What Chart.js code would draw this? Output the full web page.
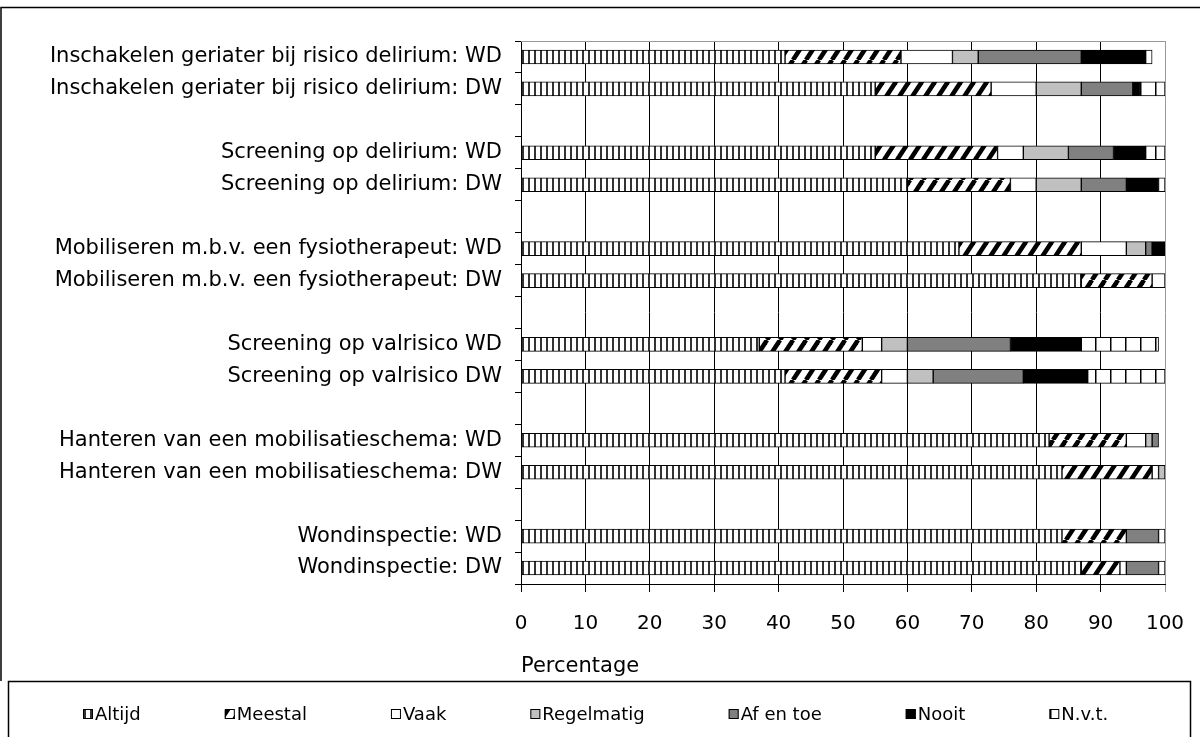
<!DOCTYPE html>
<html>
<head>
<meta charset="utf-8">
<script src="https://cdn.jsdelivr.net/npm/chart.js@4.4.1/dist/chart.umd.min.js"></script>
<style>
  html, body { margin: 0; padding: 0; background: #fff; }
  canvas { display: block; }
</style>
</head>
<body>
<canvas id="chart" width="1200" height="737"></canvas>
<script>
// categories, top to bottom
const categories = [
  "Inschakelen geriater bij risico delirium: WD",
  "Inschakelen geriater bij risico delirium: DW",
  "Screening op delirium: WD",
  "Screening op delirium: DW",
  "Mobiliseren m.b.v. een fysiotherapeut: WD",
  "Mobiliseren m.b.v. een fysiotherapeut: DW",
  "Screening op valrisico WD",
  "Screening op valrisico DW",
  "Hanteren van een mobilisatieschema: WD",
  "Hanteren van een mobilisatieschema: DW",
  "Wondinspectie: WD",
  "Wondinspectie: DW"
];

const seriesNames = ["Altijd", "Meestal", "Vaak", "Regelmatig", "Af en toe", "Nooit", "N.v.t."];

// percentages per category
const altijd     = [41, 55, 55, 60, 68, 87, 37, 41, 82, 84, 84, 87];
const meestal    = [18, 18, 19, 16, 19, 11, 16, 15, 12, 14, 10, 6];
const vaak       = [8, 7, 4, 4, 7, 2, 3, 4, 3, 1, 0, 1];
const regelmatig = [4, 7, 7, 7, 3, 0, 4, 4, 1, 1, 0, 0];
const afEnToe    = [16, 8, 7, 7, 1, 0, 16, 14, 1, 0, 5, 5];
const nooit      = [10, 1, 5, 5, 3, 0, 11, 10, 0, 0, 0, 0];
const nvt        = [1, 4, 3, 1, 0, 0, 12, 12, 0, 0, 1, 1];

// x axis ticks
const xMin = 0;
const xMax = 100;
const xStep = 10;
const xTitle = "Percentage";

// an empty row after every pair, like the original
function withGaps(arr, blank) {
  const out = [];
  arr.forEach((v, i) => {
    out.push(v);
    if (i % 2 === 1 && i < arr.length - 1) out.push(blank);
  });
  return out;
}

const canvas = document.getElementById("chart");
const ctx = canvas.getContext("2d");

function pattern(w, h, paint) {
  const c = document.createElement("canvas");
  c.width = w;
  c.height = h;
  const g = c.getContext("2d");
  g.fillStyle = "#fff";
  g.fillRect(0, 0, w, h);
  paint(g, w, h);
  return ctx.createPattern(c, "repeat");
}

const fills = [
  // Altijd: vertical lines
  pattern(6, 6, (g, w, h) => { g.fillStyle = "#333"; g.fillRect(0, 0, 2, h); }),
  // Meestal: thick diagonal stripes
  pattern(13, 20, (g, w, h) => {
    g.strokeStyle = "#000";
    g.lineWidth = 4.5;
    [-w, 0, w].forEach(k => {
      g.beginPath();
      g.moveTo(k, h);
      g.lineTo(k + w, 0);
      g.stroke();
    });
  }),
  "#ffffff",
  "#c0c0c0",
  "#808080",
  "#000000",
  // N.v.t.: wide vertical lines
  pattern(15, 6, (g, w, h) => { g.fillStyle = "#000"; g.fillRect(0, 0, 1.5, h); })
];

const seriesValues = [altijd, meestal, vaak, regelmatig, afEnToe, nooit, nvt];

const frame = {
  id: "frame",
  beforeDatasetsDraw(chart) {
    const { ctx, chartArea: a } = chart;
    ctx.save();
    ctx.strokeStyle = "#999";
    ctx.lineWidth = 1;
    ctx.beginPath();
    ctx.moveTo(a.left, a.top + 0.5);
    ctx.lineTo(a.right, a.top + 0.5);
    ctx.stroke();
    ctx.restore();
  },
  afterDraw(chart) {
    const ctx = chart.ctx;
    ctx.save();
    ctx.strokeStyle = "#000";
    ctx.lineWidth = 1.5;
    ctx.beginPath();
    ctx.moveTo(1, 681);
    ctx.lineTo(1, 7.5);
    ctx.lineTo(1200, 7.5);
    ctx.stroke();

    // legend in its own box
    ctx.strokeRect(8.5, 681.5, 1182, 80);
    ctx.font = '18px "DejaVu Sans"';
    ctx.textBaseline = "middle";
    let x = 83;
    chart.data.datasets.forEach(ds => {
      ctx.fillStyle = ds.backgroundColor;
      ctx.fillRect(x, 709, 10, 10);
      ctx.lineWidth = 1;
      ctx.strokeRect(x + 0.5, 709.5, 9, 9);
      ctx.fillStyle = "#000";
      ctx.fillText(ds.label, x + 12, 715);
      x += 12 + ctx.measureText(ds.label).width + 84;
    });
    ctx.restore();
  }
};

Chart.defaults.font.family = '"DejaVu Sans", Verdana, sans-serif';
Chart.defaults.color = "#000";

new Chart(canvas, {
  type: "bar",
  data: {
    labels: withGaps(categories, ""),
    datasets: seriesNames.map((name, i) => ({
      label: name,
      data: withGaps(seriesValues[i], null),
      backgroundColor: fills[i],
      borderColor: "#000",
      borderWidth: 1,
      borderSkipped: false,
      barThickness: 14
    }))
  },
  options: {
    indexAxis: "y",
    responsive: false,
    animation: false,
    devicePixelRatio: 1,
    layout: { padding: { top: 41, right: 35, bottom: 56, left: 0 } },
    plugins: {
      legend: { display: false },
      tooltip: { enabled: false }
    },
    scales: {
      x: {
        stacked: true,
        min: xMin,
        max: xMax,
        ticks: { stepSize: xStep, padding: 20, font: { size: 20 } },
        grid: {
          color: c => (c.tick && c.tick.value === xMax ? "#999" : "#000"),
          lineWidth: 1,
          tickLength: 8
        },
        border: { display: true, color: "#000", width: 1 },
        title: {
          display: true,
          text: xTitle,
          align: "start",
          font: { size: 21 },
          padding: { top: 0, bottom: 2 }
        },
        afterFit(scale) {
          scale.height = 97;
          scale.paddingRight = 0;
        }
      },
      y: {
        stacked: true,
        ticks: { autoSkip: false, padding: 13, font: { size: 21 } },
        grid: {
          offset: true,
          drawOnChartArea: false,
          color: "#000",
          tickLength: 6
        },
        border: { display: true, color: "#000", width: 1 },
        afterFit(scale) { scale.width = 521; }
      }
    }
  },
  plugins: [frame]
});
</script>
</body>
</html>
